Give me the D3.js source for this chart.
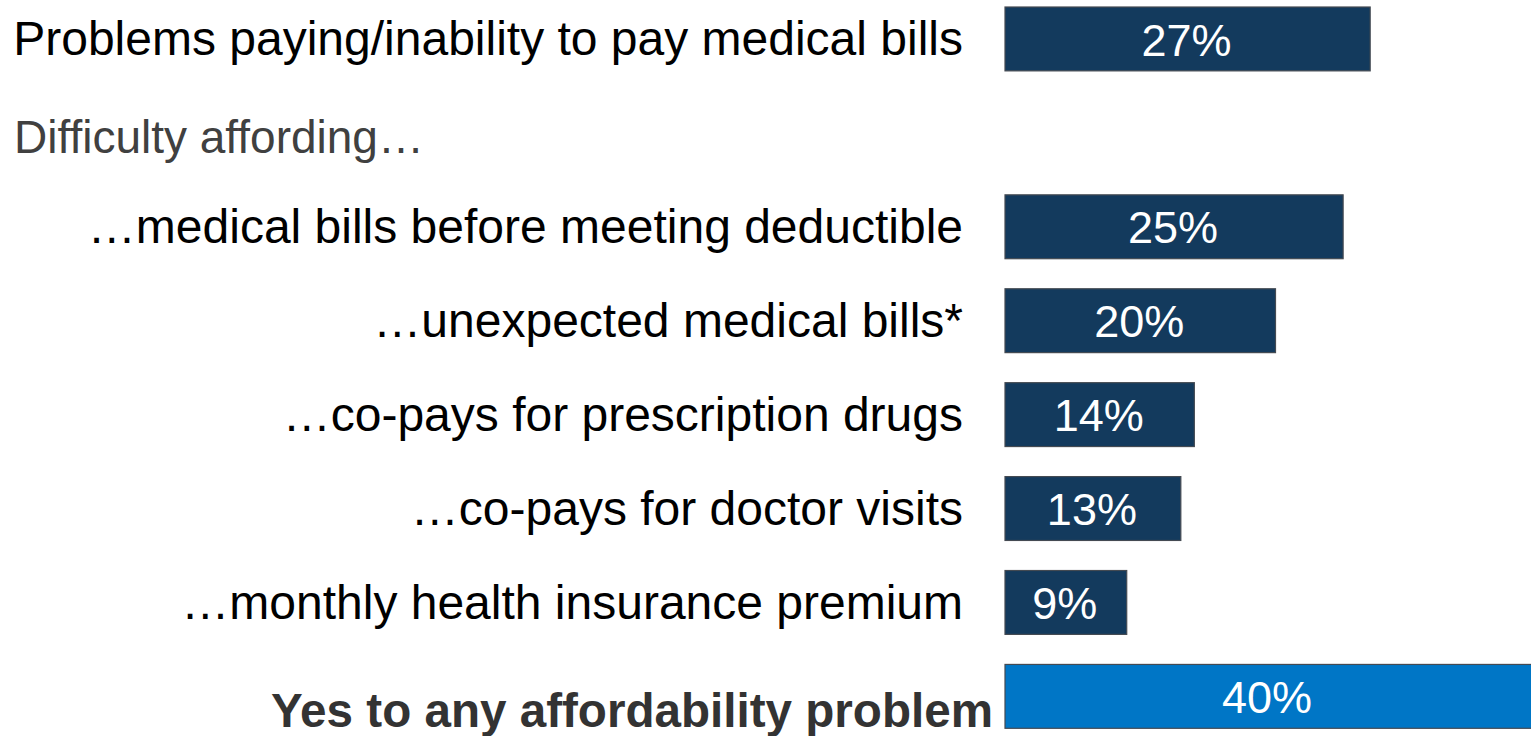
<!DOCTYPE html>
<html>
<head>
<meta charset="utf-8">
<script src="https://cdn.jsdelivr.net/npm/d3@7"></script>
<style>
  body { margin: 0; background: #ffffff; }
  svg { display: block; font-family: "Liberation Sans", Arial, sans-serif; }
</style>
</head>
<body>
<div id="chart"></div>
<script>
// rows top to bottom; the heading row has no bar
const categories = [
  "Problems paying/inability to pay medical bills",
  "Difficulty affording…",
  "…medical bills before meeting deductible",
  "…unexpected medical bills*",
  "…co-pays for prescription drugs",
  "…co-pays for doctor visits",
  "…monthly health insurance premium",
  "Yes to any affordability problem",
];
const values = [27, null, 25, 20, 14, 13, 9, 40];
const rowKind = ["item", "heading", "item", "item", "item", "item", "item", "total"];

const width = 1531,
  height = 736;

const svg = d3
  .select("#chart")
  .append("svg")
  .attr("width", width)
  .attr("height", height);

// 13.53 px per percentage point, bars start at x = 1005
const xScale = d3.scaleLinear().domain([0, 40]).range([1005, 1546]);

const yScale = d3
  .scaleBand()
  .domain(d3.range(categories.length))
  .range([7, 728.3])
  .paddingInner(0.32)
  .paddingOuter(0)
  .align(0);

const rows = categories.map((c, i) => ({
  label: c,
  value: values[i],
  kind: rowKind[i],
  i: i,
}));

const barRows = rows.filter((d) => d.value !== null);

// bars
svg
  .selectAll(".bar")
  .data(barRows)
  .join("rect")
  .attr("class", "bar")
  .attr("x", xScale(0))
  .attr("y", (d) => yScale(d.i))
  .attr("width", (d) => xScale(d.value) - xScale(0))
  .attr("height", yScale.bandwidth())
  .attr("fill", (d) => (d.kind === "total" ? "#0076c6" : "#133a5d"))
  .attr("stroke", "#444a52")
  .attr("stroke-width", 1.2);

// value labels, centred in the visible part of the bar
svg
  .selectAll(".valueLabel")
  .data(barRows)
  .join("text")
  .attr("class", "valueLabel")
  .attr("x", (d) => (xScale(0) + Math.min(xScale(d.value), width)) / 2 - 1)
  .attr("y", (d) => yScale(d.i) + yScale.bandwidth() / 2)
  .attr("dy", "0.37em")
  .attr("text-anchor", "middle")
  .style("font-size", "45px")
  .style("fill", "#ffffff")
  .text((d) => `${d.value}%`);

// category labels
svg
  .selectAll(".catLabel")
  .data(rows)
  .join("text")
  .attr("class", "catLabel")
  .attr("x", (d) => {
    if (d.kind === "heading") return 14;
    if (d.kind === "total") return 993;
    return 963;
  })
  .attr("y", (d) => {
    const mid = yScale(d.i) + yScale.bandwidth() / 2;
    if (d.kind === "heading") return mid + 20; // heading sits a bit low
    if (d.kind === "total") return mid + 31; // bold total line sits near bar bottom
    return mid + 16.5;
  })
  .attr("text-anchor", (d) => (d.kind === "heading" ? "start" : "end"))
  .style("font-size", (d) =>
    d.kind === "heading" ? "46px" : d.kind === "total" ? "47.6px" : "48px"
  )
  .style("font-weight", (d) => (d.kind === "total" ? "bold" : "normal"))
  .style("fill", (d) =>
    d.kind === "heading" ? "#404040" : d.kind === "total" ? "#333333" : "#000000"
  )
  .text((d) => d.label);
</script>
</body>
</html>
